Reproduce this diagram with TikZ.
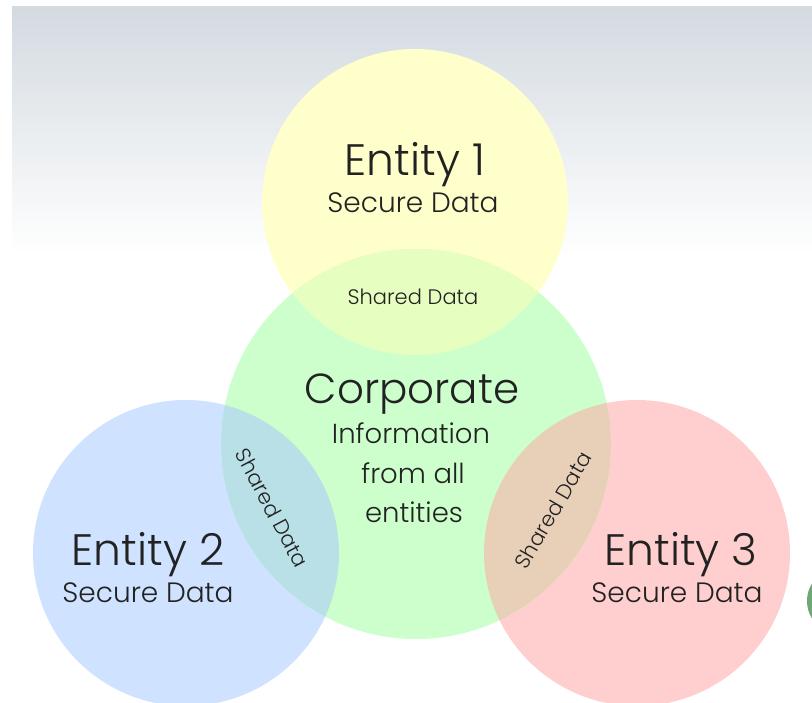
\documentclass[tikz,border=0pt]{standalone}
\usepackage{fontspec}
\setmainfont{Poppins Light}
\usetikzlibrary{positioning}
\definecolor{bgtop}{HTML}{D3DAE0}
\definecolor{ycol}{HTML}{FFFFCC}
\definecolor{gcol}{HTML}{CCFFCC}
\definecolor{bcol}{HTML}{CFE2FF}
\definecolor{rcol}{HTML}{FFCFCF}
\definecolor{ygcol}{HTML}{E6FFC0}
\definecolor{bgcol}{HTML}{B9E0E6}
\definecolor{rgcol}{HTML}{E8D0B8}
\definecolor{sliver}{HTML}{6FA878}
\definecolor{txt}{HTML}{222222}
\begin{document}
\begin{tikzpicture}[x=1pt,y=-1pt,line cap=round,line join=round,
    title/.style={font=\fontsize{44}{48}\selectfont,text=txt,inner sep=0pt,anchor=base},
    subtitle/.style={font=\fontsize{28}{32}\selectfont,text=txt,inner sep=0pt,anchor=base},
    shared/.style={font=\fontsize{21}{24}\selectfont,text=txt,inner sep=0pt}]
    \clip (0,0) rectangle (812,703);
    % background
    \fill[white] (0,0) rectangle (812,703);
    \shade[top color=bgtop,bottom color=white] (12,7) rectangle (812,255);
    % centres
    \coordinate (c1) at (415,202);
    \coordinate (c2) at (186,553);
    \coordinate (c3) at (637,553);
    \coordinate (cg) at (416,444);
    % circles
    \fill[ycol] (c1) circle[radius=153];
    \fill[bcol] (c2) circle[radius=153];
    \fill[rcol] (c3) circle[radius=153];
    \fill[gcol] (cg) circle[radius=195];
    \begin{scope}
        \clip (cg) circle[radius=195];
        \fill[ygcol] (c1) circle[radius=153];
        \fill[bgcol] (c2) circle[radius=153];
        \fill[rgcol] (c3) circle[radius=153];
    \end{scope}
    \fill[sliver] (840,601) circle[radius=33];
    % labels
    \node[title] (e1) at (415,176) {Entity 1};
    \node[subtitle] (s1) at (413,213) {Secure Data};
    \node[title] (e2) at (148,565) {Entity 2};
    \node[subtitle] (s2) at (148,602) {Secure Data};
    \node[title] (e3) at (681,565) {Entity 3};
    \node[subtitle] (s3) at (677,602) {Secure Data};
    \node[title,font=\fontsize{42}{46}\selectfont] (corp) at (412,404) {Corporate};
    \node[subtitle,font=\fontsize{27.5}{30}\selectfont] (info1) at (411,444) {Information};
    \node[subtitle,font=\fontsize{27.5}{30}\selectfont] (info2) at (413,483) {from all};
    \node[subtitle,font=\fontsize{27.5}{30}\selectfont] (info3) at (414,522) {entities};
    \node[shared] (sh1) at (413,297) {Shared Data};
    \node[shared,rotate=-62] (sh2) at (272,508) {Shared Data};
    \node[shared,rotate=60] (sh3) at (553,510) {Shared Data};
\end{tikzpicture}
\end{document}
